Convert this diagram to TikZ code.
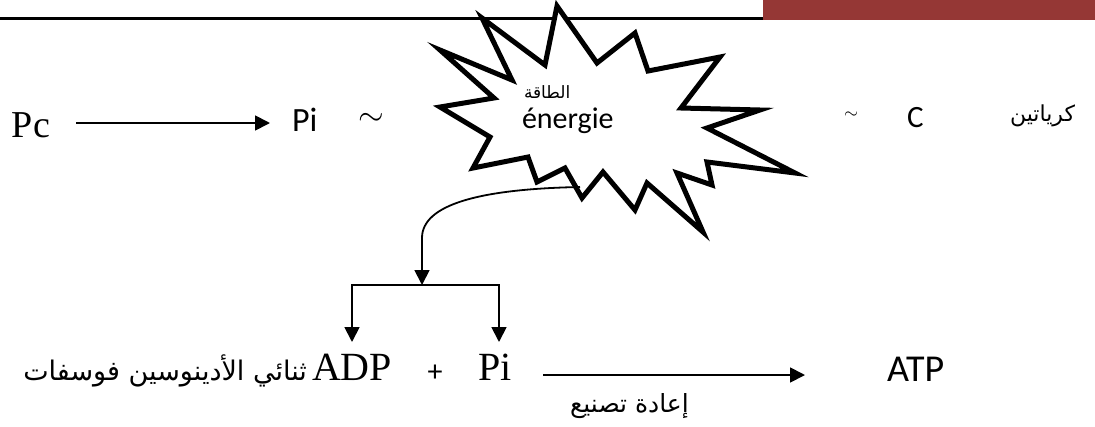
\documentclass[tikz,border=0pt]{standalone}
\usepackage{fontspec}
\usepackage{tikz}
\usetikzlibrary{arrows.meta,positioning,calc}
\TeXXeTstate=1
\newfontfamily\serifa{Liberation Serif}
\newfontfamily\calib{Carlito}
\newfontfamily\arabicfont[Script=Arabic]{DejaVu Sans}
\definecolor{barRed}{RGB}{149,55,53}
\tikzset{
  lbl/.style={inner sep=0pt,outer sep=0pt},
  arr/.style={-{Triangle[length=15pt,width=15pt]},line width=1.8pt},
  burst/.style={draw,line width=5pt,miter limit=10,fill=white},
}
\begin{document}
\begin{tikzpicture}[x=1pt,y=-1pt]
  \useasboundingbox (0,0) rectangle (1095,426);
  % header rule
  \fill[barRed] (763,0) rectangle (1095,20);
  \draw[line width=2.5pt] (0,18.5) -- (763,18.5);

  % top row
  \node[lbl,anchor=base west,font=\serifa\fontsize{38}{38}\selectfont] (pc) at (12,137) {Pc};
  \node[lbl,anchor=base west,font=\calib\fontsize{34}{34}\selectfont] (piA) at (292,131) {Pi};
  \node[lbl] (tildeA) at (371,119) {\scalebox{3.3}{$\sim$}};
  \draw[arr] (76,123) -- (270,123);

  % burst
  \draw[burst] (557,6) -- (597,63) -- (635,33) -- (648,71) -- (720,57) -- (681,108)
    -- (760,110) -- (707,128) -- (795,173) -- (707,162) -- (712,185) -- (677,173)
    -- (703,232) -- (647,183) -- (635,210) -- (603,172) -- (582,198) -- (565,168)
    -- (537,182) -- (528,157) -- (473,168) -- (490,137) -- (440,107) -- (494,98)
    -- (440,50) -- (512,80) -- (482,18) -- (545,65) -- cycle;
  \node[lbl,anchor=base west,font=\arabicfont\fontsize{17}{17}\selectfont] (taqa) at (524,98) {\beginR الطاقة\endR};
  \node[lbl,anchor=base west,font=\calib\fontsize{30}{30}\selectfont] (energie) at (522,128) {énergie};

  \node[lbl] (tildeB) at (851,115) {\scalebox{1.8}{$\sim$}};
  \node[lbl,anchor=base west,font=\calib\fontsize{31}{31}\selectfont] (crea) at (907,127) {C};
  \node[lbl,anchor=base east,font=\arabicfont\fontsize{22}{22}\selectfont] (creaAr) at (1075,121) {\beginR كرياتين\endR};

  % bottom row
  \node[lbl,anchor=base west,font=\serifa\fontsize{40}{40}\selectfont] (adp) at (312,380) {ADP};
  \node[lbl,anchor=base east,font=\arabicfont\fontsize{27}{27}\selectfont] (adpAr) at (307,380) {\beginR ثنائي الأدينوسين فوسفات\endR};
  \node[lbl,font=\calib\fontsize{30}{30}\selectfont] (plus) at (435,373) {+};
  \node[lbl,anchor=base west,font=\serifa\fontsize{40}{40}\selectfont] (piB) at (478,380) {Pi};
  \node[lbl,anchor=base west,font=\calib\fontsize{38}{38}\selectfont] (atp) at (887,381) {ATP};
  \draw[arr] (543,375) -- (805,375)
    node[pos=0.33,below=18pt,lbl,font=\arabicfont\fontsize{25}{25}\selectfont] (rebuild) {\beginR إعادة تصنيع\endR};

  % energy flow
  \coordinate (src) at (580,187);
  \coordinate (split) at (422,285);
  \coordinate (toAdp) at (352,342);
  \coordinate (toPi) at (499,342);
  \draw[arr] (src) .. controls (478,189) and (422,205) .. (422,238) -- (split);
  \draw[arr] (split) -| (toAdp);
  \draw[arr] (split) -| (toPi);
\end{tikzpicture}
\end{document}
